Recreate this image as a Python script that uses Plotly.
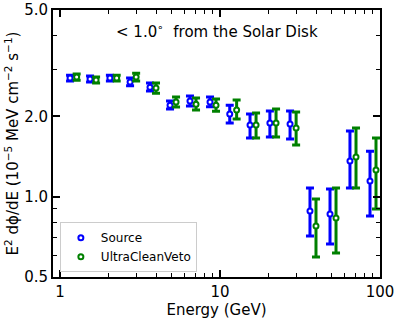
import plotly.graph_objects as go

# Data
energy_src = [1.155, 1.54, 2.05, 2.74, 3.65, 4.87, 6.49, 8.66, 11.5, 15.4, 20.5, 27.4, 36.5, 48.7, 64.9, 86.6]
flux_src = [2.78, 2.76, 2.78, 2.69, 2.57, 2.20, 2.28, 2.26, 2.04, 1.855, 1.887, 1.87, 0.884, 0.861, 1.36, 1.144]
err_hi_src = [0.07, 0.07, 0.07, 0.09, 0.095, 0.08, 0.10, 0.10, 0.16, 0.185, 0.206, 0.223, 0.193, 0.207, 0.40, 0.336]
err_lo_src = [0.07, 0.07, 0.07, 0.09, 0.083, 0.07, 0.095, 0.09, 0.153, 0.197, 0.215, 0.226, 0.172, 0.196, 0.283, 0.298]

energy_ucv = [1.27, 1.68, 2.26, 2.99, 3.98, 5.31, 7.08, 9.44, 12.7, 16.8, 22.4, 29.9, 39.8, 53.1, 70.8, 94.4]
flux_ucv = [2.806, 2.734, 2.78, 2.806, 2.55, 2.26, 2.22, 2.20, 2.11, 1.855, 1.887, 1.807, 0.776, 0.832, 1.407, 1.258]
err_hi_ucv = [0.074, 0.072, 0.07, 0.094, 0.115, 0.10, 0.12, 0.12, 0.19, 0.202, 0.242, 0.268, 0.204, 0.245, 0.40, 0.40]
err_lo_ucv = [0.076, 0.069, 0.07, 0.096, 0.11, 0.094, 0.11, 0.11, 0.157, 0.197, 0.215, 0.246, 0.182, 0.217, 0.33, 0.359]

x_major = [1, 10, 100]
x_major_text = ["1", "10", "100"]
x_minor = [2, 3, 4, 5, 6, 7, 8, 9, 20, 30, 40, 50, 60, 70, 80, 90]
y_major = [0.5, 1.0, 2.0, 5.0]
y_major_text = ["0.5", "1.0", "2.0", "5.0"]
y_minor = [0.6, 0.7, 0.8, 0.9, 3, 4]

FONT = "DejaVu Sans"
BLUE = "#0000ff"
GREEN = "#008000"


def series(x, y, hi, lo, color, name):
    return go.Scatter(
        x=x, y=y, mode="markers", name=name,
        marker=dict(symbol="circle", size=5, color="white",
                    line=dict(color=color, width=2)),
        error_y=dict(type="data", symmetric=False, array=hi, arrayminus=lo,
                     color=color, thickness=3, width=4),
    )


fig = go.Figure()
fig.add_trace(series(energy_src, flux_src, err_hi_src, err_lo_src, BLUE, "Source"))
fig.add_trace(series(energy_ucv, flux_ucv, err_hi_ucv, err_lo_ucv, GREEN, "UltraCleanVeto"))

axis_common = dict(
    showline=True, linecolor="black", linewidth=2, mirror="allticks",
    ticks="inside", ticklen=7, tickwidth=1.5, tickcolor="black",
    showgrid=False, zeroline=False, automargin=False,
    tickfont=dict(family=FONT, size=15, color="black"),
)

fig.update_xaxes(
    type="log", range=[-0.044, 2.0],
    tickmode="array", tickvals=x_major, ticktext=x_major_text,
    minor=dict(tickmode="array", tickvals=x_minor, ticks="inside",
               ticklen=4, tickwidth=1, tickcolor="black"),
    title=dict(text="Energy (GeV)", font=dict(family=FONT, size=15, color="black"),
               standoff=4),
    **axis_common,
)
fig.update_yaxes(
    type="log", range=[-0.30103, 0.69897],
    tickmode="array", tickvals=y_major, ticktext=y_major_text,
    minor=dict(tickmode="array", tickvals=y_minor, ticks="inside",
               ticklen=4, tickwidth=1, tickcolor="black"),
    title=dict(text="E<sup>2</sup> d\u03d5/dE (10<sup>\u22125</sup> MeV cm<sup>\u22122</sup> s<sup>\u22121</sup>)",
               font=dict(family=FONT, size=15, color="black"), standoff=2),
    **axis_common,
)

fig.add_annotation(
    xref="paper", yref="paper", x=0.5, y=0.921, xanchor="center", yanchor="middle",
    text="< 1.0<sup>\u2218</sup>  from the Solar Disk", showarrow=False,
    font=dict(family=FONT, size=15, color="black"),
)

fig.update_layout(
    width=399, height=319,
    margin=dict(l=53, r=19, t=10, b=42),
    paper_bgcolor="white", plot_bgcolor="white",
    font=dict(family=FONT, color="black"),
    legend=dict(
        x=0.021, y=0.018, xanchor="left", yanchor="bottom",
        bgcolor="rgba(255,255,255,0.8)", bordercolor="#cccccc", borderwidth=1,
        font=dict(family=FONT, size=12, color="black"),
        tracegroupgap=0, itemsizing="trace",
    ),
    showlegend=True,
)

fig.write_html("out.html", post_script="document.body.style.margin='0';",
               config={"displayModeBar": False})
